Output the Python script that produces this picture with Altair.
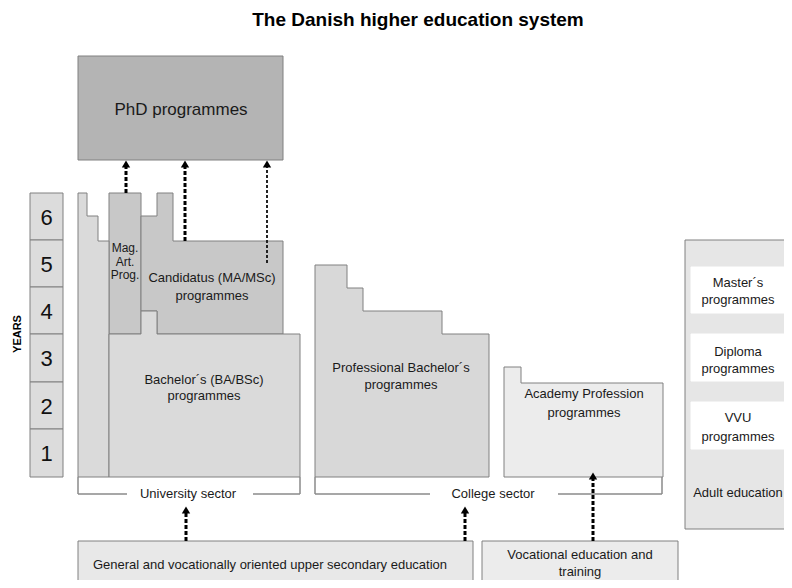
import altair as alt
import pandas as pd

FONT = "Liberation Sans, Arial, sans-serif"
EDGE = "#808080"

# ---------------- data ----------------
title_text = "The Danish higher education system"

year_labels = ["6", "5", "4", "3", "2", "1"]
year_top = [193, 240, 287, 334, 382, 429]
year_bottom = [240, 287, 334, 382, 429, 477]

box_names = ["phd", "mag", "adult", "masters", "diploma", "vvu", "general", "vocational"]
box_x0 = [78, 109, 685, 691, 691, 691, 78, 482]
box_x1 = [283, 141, 800, 800, 800, 800, 473, 678]
box_y0 = [56, 193, 240, 267, 334, 402, 541, 541]
box_y1 = [160, 334, 529, 313, 381, 449, 600, 600]
box_fill = ["#b4b4b4", "#c8c8c8", "#e6e6e6", "#ffffff", "#ffffff", "#ffffff", "#e8e8e8", "#ececec"]
box_stroke = [EDGE, EDGE, EDGE, "#ffffff", "#ffffff", "#ffffff", EDGE, EDGE]

# stepped shapes (vertex lists)
strip_x = [78, 87, 87, 98, 98, 109, 109, 78, 78]
strip_y = [193, 193, 216, 216, 241, 241, 477, 477, 193]
cand_x = [141, 157, 157, 173, 173, 283, 283, 157, 157, 141, 141]
cand_y = [216, 216, 193, 193, 241, 241, 334, 334, 311, 311, 216]
bach_x = [109, 141, 141, 157, 157, 300, 300, 109, 109]
bach_y = [334, 334, 311, 311, 334, 334, 477, 477, 334]
prof_x = [315, 347, 347, 363, 363, 442, 442, 489, 489, 315, 315]
prof_y = [265, 265, 288, 288, 311, 311, 334, 334, 477, 477, 265]
acad_x = [504, 521, 521, 663, 663, 504, 504]
acad_y = [367, 367, 383, 383, 477, 477, 367]
shape_names = ["strip", "cand", "bach", "prof", "acad"]
shape_xs = [strip_x, cand_x, bach_x, prof_x, acad_x]
shape_ys = [strip_y, cand_y, bach_y, prof_y, acad_y]
shape_fill = ["#dadada", "#c8c8c8", "#dadada", "#d8d8d8", "#ececec"]

# sector brackets (segments)
seg_x0 = [78, 78, 253, 300, 315, 315, 558, 662]
seg_y0 = [477, 494, 494, 477, 477, 494, 494, 477]
seg_x1 = [78, 127, 300, 300, 315, 430, 662, 662]
seg_y1 = [494, 494, 494, 494, 494, 494, 494, 494]

# dashed arrows
arrow_x = [126, 185, 186, 465, 593]
arrow_from = [193, 241, 541, 541, 541]
arrow_to = [166, 166, 512, 512, 478]
thin_arrow_x = [267]
thin_arrow_from = [263]
thin_arrow_to = [166]
head_x = [126, 185, 267, 186, 465, 593]
head_y = [164, 164, 164, 510, 510, 476]

# labels
label_text = ["PhD programmes", "Mag.", "Art.", "Prog.",
              "Candidatus (MA/MSc)", "programmes",
              "Bachelor´s (BA/BSc)", "programmes",
              "Professional Bachelor´s", "programmes",
              "Academy Profession", "programmes",
              "Master´s", "programmes", "Diploma", "programmes",
              "VVU", "programmes", "Adult education",
              "University sector", "College sector",
              "General and vocationally oriented upper secondary education",
              "Vocational education and", "training"]
label_x = [181, 125, 125, 125, 212, 212, 204, 204, 401, 401, 584, 584,
           738, 738, 738, 738, 738, 738, 738, 188, 493, 270, 580, 580]
label_y = [110, 248, 261.5, 275, 278, 296, 380, 396, 368, 385, 394, 413,
           283, 300, 352, 369, 418, 437, 493, 494, 494, 565, 555, 572]
label_size = [17, 12, 12, 12, 13, 13, 13, 13, 13, 13, 13, 13,
              13, 13, 13, 13, 13, 13, 13, 13, 13, 13, 13, 13]

# ---------------- tables ----------------
years = pd.DataFrame({"label": year_labels, "y0": year_top, "y1": year_bottom,
                      "x0": [30] * 6, "x1": [63] * 6, "xc": [46.5] * 6,
                      "yc": [(a + b) / 2 + 1 for a, b in zip(year_top, year_bottom)]})
boxes = pd.DataFrame({"name": box_names, "x0": box_x0, "x1": box_x1, "y0": box_y0,
                      "y1": box_y1, "fill": box_fill, "stroke": box_stroke})
rows = []
for name, xs, ys, fill in zip(shape_names, shape_xs, shape_ys, shape_fill):
    for i, (xv, yv) in enumerate(zip(xs, ys)):
        rows.append({"shape": name, "i": i, "x": xv, "y": yv, "fill": fill})
shapes = pd.DataFrame(rows)
segs = pd.DataFrame({"x0": seg_x0, "y0": seg_y0, "x1": seg_x1, "y1": seg_y1})
arrows = pd.DataFrame({"x": arrow_x, "y0": arrow_from, "y1": arrow_to})
thin_arrows = pd.DataFrame({"x": thin_arrow_x, "y0": thin_arrow_from, "y1": thin_arrow_to})
heads = pd.DataFrame({"x": head_x, "y": head_y})
labels = pd.DataFrame({"text": label_text, "x": label_x, "y": label_y, "size": label_size})
title_df = pd.DataFrame({"text": [title_text], "x": [418], "y": [20]})
years_lbl = pd.DataFrame({"text": ["YEARS"], "x": [18], "y": [334]})

XS = alt.Scale(domain=[8, 784], nice=False, zero=False)
YS = alt.Scale(domain=[8, 580], nice=False, zero=False, reverse=True)


def X(f):
    return alt.X(f"{f}:Q", scale=XS, axis=None)


def Y(f):
    return alt.Y(f"{f}:Q", scale=YS, axis=None)


rect_layer = alt.Chart(boxes).mark_rect(strokeWidth=1).encode(
    x=X("x0"), x2="x1", y=Y("y0"), y2="y1",
    fill=alt.Fill("fill:N", scale=None), stroke=alt.Stroke("stroke:N", scale=None))

year_rects = alt.Chart(years).mark_rect(fill="#dcdcdc", stroke=EDGE, strokeWidth=1).encode(
    x=X("x0"), x2="x1", y=Y("y0"), y2="y1")

year_text = alt.Chart(years).mark_text(font=FONT, fontSize=22, color="#111").encode(
    x=X("xc"), y=Y("yc"), text="label:N")

poly_layer = alt.Chart(shapes).mark_line(stroke=EDGE, strokeWidth=1, interpolate="linear").encode(
    x=X("x"), y=Y("y"), order=alt.Order("i:Q"), detail="shape:N",
    fill=alt.Fill("fill:N", scale=None))

seg_layer = alt.Chart(segs).mark_rule(color="#8a8a8a", strokeWidth=1.5).encode(
    x=X("x0"), x2="x1", y=Y("y0"), y2="y1")

arrow_layer = alt.Chart(arrows).mark_rule(color="black", strokeWidth=3, strokeDash=[4, 2]).encode(
    x=X("x"), y=Y("y0"), y2="y1")

thin_layer = alt.Chart(thin_arrows).mark_rule(color="#222", strokeWidth=2, strokeDash=[3, 2]).encode(
    x=X("x"), y=Y("y0"), y2="y1")

head_layer = alt.Chart(heads).mark_point(shape="triangle-up", filled=True, color="black",
                                         size=70, opacity=1).encode(x=X("x"), y=Y("y"))

label_layer = alt.Chart(labels).mark_text(font=FONT, color="#1a1a1a").encode(
    x=X("x"), y=Y("y"), text="text:N", size=alt.Size("size:Q", scale=None))

title_layer = alt.Chart(title_df).mark_text(font=FONT, fontSize=19, fontWeight="bold",
                                            color="black").encode(
    x=X("x"), y=Y("y"), text="text:N")

years_layer = alt.Chart(years_lbl).mark_text(font=FONT, fontSize=11, fontWeight="bold",
                                             angle=270, color="black").encode(
    x=X("x"), y=Y("y"), text="text:N")

chart = alt.layer(
    rect_layer, year_rects, poly_layer, seg_layer, arrow_layer, thin_layer, head_layer,
    year_text, label_layer, title_layer, years_layer
).properties(
    width=776, height=572, padding=0, autosize=alt.AutoSizeParams(type="none")
).configure_view(strokeWidth=0)

chart.save("out.html", embed_options={"renderer": "svg", "actions": False})
